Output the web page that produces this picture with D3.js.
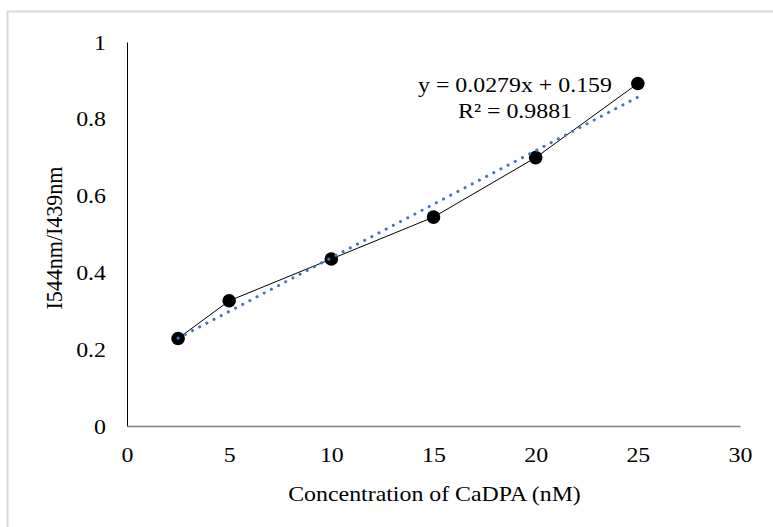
<!DOCTYPE html>
<html>
<head>
<meta charset="utf-8">
<script src="https://cdn.jsdelivr.net/npm/d3@7"></script>
<style>
  html, body { margin: 0; padding: 0; background: #fff; }
  svg { display: block; }
  text { font-family: "Liberation Serif", "Times New Roman", serif; fill: #000; }
</style>
</head>
<body>
<svg id="chart" width="773" height="527"></svg>
<script>
// Data
const concentrations = [2.5, 5, 10, 15, 20, 25];
const ratios = [0.228, 0.326, 0.435, 0.544, 0.699, 0.892];
const xTicks = [0, 5, 10, 15, 20, 25, 30];
const yTicks = [0, 0.2, 0.4, 0.6, 0.8, 1];
const yTickLabels = ["0", "0.2", "0.4", "0.6", "0.8", "1"];
const trendSlope = 0.0279;
const trendIntercept = 0.159;
const equationLines = ["y = 0.0279x + 0.159", "R² = 0.9881"];
const xTitle = "Concentration of CaDPA (nM)";
const yTitle = "I544nm/I439nm";

const SX = 1.085; // horizontal stretch of glyphs in the reference
const FS = "22px";

const svg = d3.select("#chart");
const W = 773, H = 527;

svg.append("rect").attr("x", 0).attr("y", 0).attr("width", W).attr("height", H).attr("fill", "#fff");
svg.append("path")
  .attr("d", `M7.5,${H} L7.5,11.5 L${W},11.5`)
  .attr("fill", "none").attr("stroke", "#d9d9d9").attr("stroke-width", 2);

const x = d3.scaleLinear().domain([0, 30]).range([127, 740]);
const y = d3.scaleLinear().domain([0, 1]).range([426, 42]);

// Y axis
const yAxis = d3.axisLeft(y).tickValues(yTicks).tickSize(0).tickPadding(21)
  .tickFormat((d, i) => yTickLabels[i]);
const gy = svg.append("g").attr("transform", `translate(${x(0)},0)`).call(yAxis);
gy.select(".domain").attr("stroke", "#000").attr("stroke-width", 1);
gy.selectAll("text")
  .style("font-size", FS).style("font-family", "Liberation Serif").attr("fill", "#000")
  .attr("x", -21 / SX).attr("transform", `scale(${SX},1)`);

// X axis
const xAxis = d3.axisBottom(x).tickValues(xTicks).tickSize(0).tickPadding(20)
  .tickFormat(d3.format("d"));
const gx = svg.append("g").attr("transform", `translate(0,${y(0)})`).call(xAxis);
gx.select(".domain").attr("stroke", "#808080").attr("stroke-width", 1.5);
gx.selectAll("text")
  .style("font-size", FS).style("font-family", "Liberation Serif").attr("fill", "#000")
  .attr("transform", `scale(${SX},1)`);

// data line
const pts = concentrations.map((c, i) => [c, ratios[i]]);
svg.append("path")
  .datum(pts)
  .attr("fill", "none").attr("stroke", "#000").attr("stroke-width", 1)
  .attr("d", d3.line().x(d => x(d[0])).y(d => y(d[1])));

// markers
svg.selectAll("circle.pt").data(pts).enter().append("circle")
  .attr("class", "pt")
  .attr("cx", d => x(d[0])).attr("cy", d => y(d[1])).attr("r", 6.8)
  .attr("fill", "#000");

// trendline
const xMin = d3.min(concentrations), xMax = d3.max(concentrations);
const trendPts = [xMin, xMax].map(c => [c, trendSlope * c + trendIntercept]);
svg.append("path")
  .datum(trendPts)
  .attr("fill", "none").attr("stroke", "#4472C4").attr("stroke-width", 3)
  .attr("stroke-linecap", "round").attr("stroke-dasharray", "0.1 8")
  .attr("d", d3.line().x(d => x(d[0])).y(d => y(d[1])));

// equation label
svg.selectAll("text.eq").data(equationLines).enter().append("text")
  .attr("class", "eq")
  .attr("transform", (d, i) => `translate(515,${92 + i * 26}) scale(${SX},1)`)
  .attr("text-anchor", "middle")
  .style("font-size", FS)
  .text(d => d);

// axis titles
svg.append("text")
  .attr("transform", `translate(${(x(0) + x(30)) / 2 + 1},501) scale(${SX},1)`)
  .attr("text-anchor", "middle").style("font-size", FS)
  .text(xTitle);

svg.append("text")
  .attr("transform", `translate(62,${(y(0) + y(1)) / 2 + 4}) rotate(-90) scale(1,${SX})`)
  .attr("text-anchor", "middle").style("font-size", FS)
  .text(yTitle);
</script>
</body>
</html>
